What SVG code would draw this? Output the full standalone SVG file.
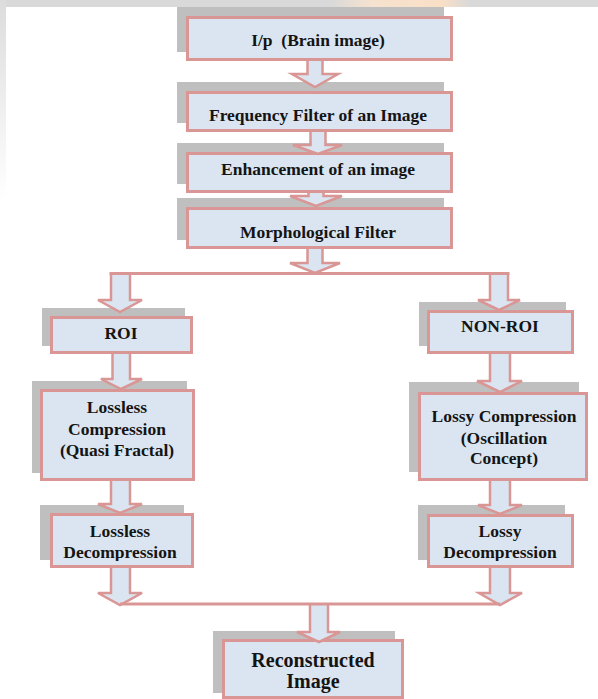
<svg xmlns="http://www.w3.org/2000/svg" width="598" height="699" viewBox="0 0 598 699">
<defs>
<style>
.sh{fill:#bfbfbf}
.bx{fill:#dbe5f1;stroke:#d99694;stroke-width:3}
.t{font-family:"Liberation Serif","Times New Roman",serif;font-weight:bold;font-size:17.5px;fill:#141414;text-anchor:middle}
.ar{fill:#dbe5f1;stroke:#d99694;stroke-width:2.5;stroke-linejoin:miter}
.ln{fill:none;stroke:#d99694;stroke-width:3}
</style>
<linearGradient id="peach" x1="0" x2="1" y1="0" y2="0">
<stop offset="0" stop-color="#d9d9d9"/>
<stop offset="0.3" stop-color="#f6e2cf"/>
<stop offset="0.8" stop-color="#f9dfc6"/>
<stop offset="1" stop-color="#d9d9d9"/>
</linearGradient>
<linearGradient id="lft" x1="0" x2="0" y1="0" y2="1">
<stop offset="0" stop-color="#dcdcdc"/>
<stop offset="1" stop-color="#ffffff"/>
</linearGradient>
<clipPath id="c1"><rect x="50" y="513" width="144" height="48"/></clipPath>
<clipPath id="c2"><rect x="427" y="514" width="147" height="47"/></clipPath>
</defs>
<rect width="598" height="699" fill="#ffffff"/>
<rect x="0" y="0" width="598" height="7" fill="#d9d9d9"/>
<rect x="330" y="0" width="140" height="7" fill="url(#peach)"/>
<rect x="0" y="0" width="6" height="200" fill="url(#lft)"/>

<g id="n1">
<rect class="sh" x="177" y="7" width="267" height="45"/>
<rect class="bx" x="187.5" y="17.5" width="264" height="42"/>
<text class="t" x="318" y="46" style="white-space:pre">I/p  (Brain image)</text>
</g>
<g id="n2">
<rect class="sh" x="177" y="82" width="267" height="41"/>
<rect class="bx" x="187.5" y="92.5" width="264" height="38"/>
<text class="t" x="318" y="121">Frequency Filter of an Image</text>
</g>
<g id="n3">
<rect class="sh" x="177" y="143" width="267" height="41"/>
<rect class="bx" x="187.5" y="153.5" width="264" height="38"/>
<text class="t" x="318" y="175">Enhancement of an image</text>
</g>
<g id="n4">
<rect class="sh" x="177" y="198" width="267" height="42"/>
<rect class="bx" x="187.5" y="208.5" width="264" height="39"/>
<text class="t" x="318" y="238">Morphological Filter</text>
</g>
<g id="roi">
<rect class="sh" x="42" y="308" width="143" height="38"/>
<rect class="bx" x="51.5" y="317.5" width="140" height="35"/>
<text class="t" x="121" y="339">ROI</text>
</g>
<g id="nonroi">
<rect class="sh" x="419" y="302" width="147" height="44"/>
<rect class="bx" x="428.5" y="311.5" width="144" height="41"/>
<text class="t" x="500" y="332">NON-ROI</text>
</g>
<g id="lossless">
<rect class="sh" x="32" y="381" width="155" height="92"/>
<rect class="bx" x="41.5" y="390.5" width="152" height="89"/>
<text class="t" x="117" y="413">Lossless</text>
<text class="t" x="117" y="435">Compression</text>
<text class="t" x="117" y="456">(Quasi Fractal)</text>
</g>
<g id="lossy">
<rect class="sh" x="409" y="382" width="170" height="90"/>
<rect class="bx" x="419.5" y="393.5" width="167" height="86"/>
<text class="t" x="504" y="422">Lossy Compression</text>
<text class="t" x="504" y="444">(Oscillation</text>
<text class="t" x="504" y="464">Concept)</text>
</g>
<g id="losslessdec">
<rect class="sh" x="40" y="505" width="144" height="55"/>
<rect class="bx" x="51.5" y="514.5" width="141" height="52"/>
<g clip-path="url(#c1)">
<text class="t" x="120" y="537">Lossless</text>
<text class="t" x="120" y="558">Decompression</text>
</g>
</g>
<g id="lossydec">
<rect class="sh" x="418" y="505" width="147" height="55"/>
<rect class="bx" x="428.5" y="515.5" width="144" height="51"/>
<g clip-path="url(#c2)">
<text class="t" x="500" y="537">Lossy</text>
<text class="t" x="500" y="558">Decompression</text>
</g>
</g>
<g id="recon">
<rect class="sh" x="213" y="631" width="182" height="62"/>
<rect class="bx" x="223.5" y="640.5" width="179" height="57"/>
<text class="t" x="313" y="667" style="font-size:20px">Reconstructed</text>
<text class="t" x="313" y="688" style="font-size:20px">Image</text>
</g>

<g id="connectors">
<path class="ar" d="M307.5,61 V74 H292 L315,87 L338,74 H322.5 V61"/>
<path class="ar" d="M310.5,132 V145 H293 L318,154 L342,145 H325.5 V132"/>
<path class="ar" d="M308.5,193 V196 H290 L316,206 L342,196 H323.5 V193"/>
<path class="ar" d="M307.5,249 V263 H290 L315,273 L340,263 H322.5 V249"/>
<path class="ar" d="M111,273.5 V300 H98 L120,312 L142,300 H130 V273.5"/>
<path class="ar" d="M490,273.5 V300 H478 L499,310 L520,300 H508 V273.5"/>
<path class="ln" d="M109.5,273.5 H509.5"/>
<path class="ar" d="M112.5,354 V379 H101 L121,389 L142,379 H130 V354"/>
<path class="ar" d="M490,354 V381 H477 L500,392 L522,381 H510 V354"/>
<path class="ar" d="M111,481 V504 H98 L120,513 L142,504 H130 V481"/>
<path class="ar" d="M490,481 V505 H478 L500,514 L522,505 H510 V481"/>
<path class="ar" d="M111,568 V593 H98 L120,605 L142,593 H130 V568"/>
<path class="ar" d="M490,568 V593 H479 L500,605 L522,593 H510 V568"/>
<path class="ar" d="M310,604 V632 H297 L319,642 L340,632 H328 V604"/>
<path class="ln" d="M120,604 H500"/>
</g>
</svg>
